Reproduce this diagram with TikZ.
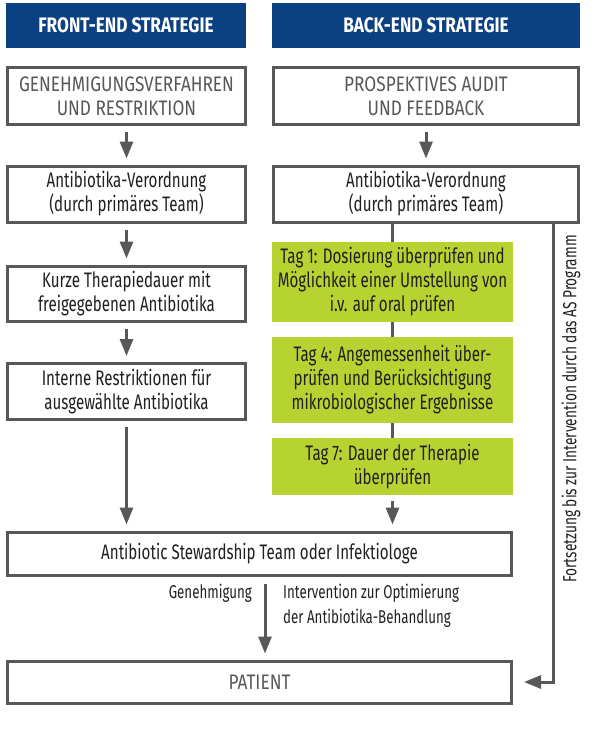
\documentclass[tikz,border=0pt]{standalone}
\usepackage{fontspec}
\setmainfont{Fira Sans}[FakeStretch=0.72]
\newfontfamily\capsfont{Fira Sans}[FakeStretch=0.82]
\usetikzlibrary{arrows.meta}
\definecolor{hdrblue}{HTML}{0B4182}
\definecolor{daygreen}{HTML}{B7D332}
\definecolor{linegray}{HTML}{58585A}
\definecolor{txtdark}{HTML}{231F20}
\definecolor{txtgray}{HTML}{58585A}
\begin{document}
\begin{tikzpicture}[x=1pt,y=-1pt,
  hdr/.style={fill=hdrblue, text=white, inner sep=0pt, minimum height=45pt,
    font=\capsfont\bfseries\fontsize{21}{24}\selectfont},
  box/.style={draw=linegray, line width=3pt, fill=white, text=txtdark, align=center,
    inner sep=0pt, font=\fontsize{21}{24}\selectfont},
  capbox/.style={box, text=txtgray, font=\capsfont\fontsize{21}{24}\selectfont},
  daybox/.style={fill=daygreen, text=txtdark, align=center, inner sep=0pt,
    minimum width=241pt, font=\fontsize{21}{24}\selectfont},
  lbl/.style={text=txtdark, inner sep=0pt, font=\fontsize{18.5}{25}\selectfont},
  link/.style={draw=linegray, line width=3pt},
  arr/.style={link, shorten <=6pt, shorten >=6pt, -{Triangle[length=17pt,width=13pt]}}]
\useasboundingbox (0,0) rectangle (594,747);

% column headers
\node[hdr, minimum width=240pt] (hl) at (126,25.5) {FRONT-END STRATEGIE};
\node[hdr, minimum width=308pt] (hr) at (426,25.5) {BACK-END STRATEGIE};

% front-end column
\node[capbox, minimum width=238pt, minimum height=57pt] (g1) at (126.5,96)
  {GENEHMIGUNGSVERFAHREN\\UND RESTRIKTION};
\node[box, minimum width=238pt, minimum height=56pt] (a1) at (126.5,194)
  {Antibiotika-Verordnung\\(durch primäres Team)};
\node[box, minimum width=238pt, minimum height=55pt] (k) at (126.5,293.5)
  {Kurze Therapiedauer mit\\freigegebenen Antibiotika};
\node[box, minimum width=238pt, minimum height=56pt] (i) at (126.5,391.5)
  {Interne Restriktionen für\\ausgewählte Antibiotika};

% back-end column
\node[capbox, minimum width=305pt, minimum height=57pt] (p1) at (426,96)
  {PROSPEKTIVES AUDIT\\UND FEEDBACK};
\node[box, minimum width=305pt, minimum height=56pt] (a2) at (426,194)
  {Antibiotika-Verordnung\\(durch primäres Team)};
\node[daybox, minimum height=80pt] (t1) at (392.5,282)
  {Tag 1: Dosierung überprüfen und\\Möglichkeit einer Umstellung von\\i.v. auf oral prüfen};
\node[daybox, minimum height=86pt] (t4) at (392.5,380)
  {Tag 4: Angemessenheit über-\\prüfen und Berücksichtigung\\mikrobiologischer Ergebnisse};
\node[daybox, minimum height=57pt] (t7) at (392.5,466.5)
  {Tag 7: Dauer der Therapie\\überprüfen};

% joint boxes
\node[box, minimum width=504pt, minimum height=43pt] (st) at (259.5,553.5)
  {Antibiotic Stewardship Team oder Infektiologe};
\node[capbox, minimum width=504pt, minimum height=42pt] (pt) at (259.5,682)
  {PATIENT};

% connectors
\draw[arr] (g1.south) -- (a1.north);
\draw[arr] (a1.south) -- (k.north);
\draw[arr] (k.south) -- (i.north);
\draw[arr] (i.south) -- (i.south |- st.north);
\draw[arr] (p1.south) -- (a2.north);
\draw[link] (t1.north |- a2.south) -- (t1.north);
\draw[link] (t1.south) -- (t4.north);
\draw[link] (t4.south) -- (t7.north);
\draw[arr] (t7.south) -- (t7.south |- st.north);
\draw[arr, shorten <=7pt] ([xshift=5.5pt]st.south) -- ([xshift=5.5pt]pt.north);
\draw[arr, shorten <=0pt, shorten >=11pt] ([xshift=127pt]a2.south) |- (pt.east);

% connector labels
\node[lbl, anchor=base east] (gen) at (252,598) {Genehmigung};
\node[lbl, anchor=base west, align=left] (opt) at (283,623)
  {Intervention zur Optimierung\\der Antibiotika-Behandlung};
\node[lbl, rotate=90, font=\fontsize{19}{24}\selectfont] (fort) at (571,409)
  {Fortsetzung bis zur Intervention durch das AS Programm};
\end{tikzpicture}
\end{document}
